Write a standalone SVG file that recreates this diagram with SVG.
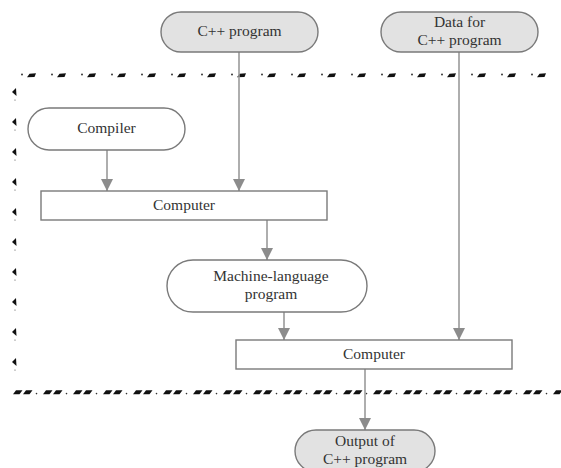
<svg xmlns="http://www.w3.org/2000/svg" width="561" height="468" viewBox="0 0 561 468">
  <style>
    .term { fill: #ffffff; stroke: #7a7a7a; stroke-width: 1.4; }
    .term.io { fill: #e2e2e2; }
    .box { fill: #ffffff; stroke: #7a7a7a; stroke-width: 1.4; }
    .lbl { font-family: "Liberation Serif", "Times New Roman", serif; font-size: 15.5px; fill: #333333; text-anchor: middle; }
    .conn { stroke: #9a9a9a; stroke-width: 1.6; fill: none; marker-end: url(#arrow); }
  </style>
  <defs>
    <marker id="arrow" viewBox="0 0 12 16" refX="12" refY="8" markerWidth="12" markerHeight="16" markerUnits="userSpaceOnUse" orient="auto">
      <path d="M0,2 L12,8 L0,14 Z" fill="#8c8c8c"/>
    </marker>
    <!-- top boundary: dot + slanted dash, 30px period -->
    <pattern id="topEdge" x="20" y="72" width="30" height="7" patternUnits="userSpaceOnUse">
      <circle cx="2" cy="2.5" r="0.9" fill="#222"/>
      <path d="M7,5.2 L9.5,1.8 L16,1.3 L14.5,5 Z" fill="#111"/>
    </pattern>
    <!-- bottom boundary: two slanted dashes + dot, 30px period -->
    <pattern id="bottomEdge" x="12" y="389" width="30" height="7" patternUnits="userSpaceOnUse">
      <path d="M1,5.3 L4,1.3 L10.5,1.3 L7.5,5.3 Z" fill="#111"/>
      <path d="M11,5.3 L14,1.3 L20.5,1.3 L17.5,5.3 Z" fill="#111"/>
      <circle cx="24.5" cy="4.6" r="0.8" fill="#333"/>
    </pattern>
    <!-- left boundary: small left-pointing blob + dot, 30px period -->
    <pattern id="leftEdge" x="10" y="87" width="8" height="30" patternUnits="userSpaceOnUse">
      <path d="M2,5 L6,1 L6.5,9 Z" fill="#111"/>
      <circle cx="5" cy="13" r="0.6" fill="#444"/>
    </pattern>
  </defs>

  <!-- computer boundary -->
  <g id="boundary">
    <rect x="20" y="72" width="541" height="7" fill="url(#topEdge)"/>
    <rect x="10" y="87" width="8" height="285" fill="url(#leftEdge)"/>
    <rect x="12" y="389" width="549" height="7" fill="url(#bottomEdge)"/>
  </g>

  <g id="connectors">
    <line class="conn" x1="239" y1="52" x2="239" y2="191"/>
    <line class="conn" x1="107" y1="150" x2="107" y2="191"/>
    <line class="conn" x1="267" y1="220" x2="267" y2="260"/>
    <line class="conn" x1="284" y1="312" x2="284" y2="340"/>
    <line class="conn" x1="459" y1="52" x2="459" y2="340"/>
    <line class="conn" x1="365" y1="369" x2="365" y2="430"/>
  </g>

  <g id="cpp-program">
    <rect class="term io" x="161" y="12" width="157" height="40" rx="20"/>
    <text class="lbl" x="239.5" y="36">C++ program</text>
  </g>

  <g id="data">
    <rect class="term io" x="381" y="12" width="157" height="40" rx="20"/>
    <text class="lbl" x="459.5" y="27">Data for</text>
    <text class="lbl" x="459.5" y="45">C++ program</text>
  </g>

  <g id="compiler">
    <rect class="term" x="28" y="108" width="157" height="42" rx="21"/>
    <text class="lbl" x="106.5" y="133">Compiler</text>
  </g>

  <g id="computer-1">
    <rect class="box" x="41" y="191" width="286" height="29"/>
    <text class="lbl" x="184" y="210">Computer</text>
  </g>

  <g id="machine-program">
    <rect class="term" x="167" y="260" width="200" height="52" rx="26"/>
    <text class="lbl" x="271" y="281">Machine-language</text>
    <text class="lbl" x="271" y="299">program</text>
  </g>

  <g id="computer-2">
    <rect class="box" x="236" y="340" width="276" height="29"/>
    <text class="lbl" x="374" y="359">Computer</text>
  </g>

  <g id="output">
    <rect class="term io" x="295" y="430" width="140" height="42" rx="21"/>
    <text class="lbl" x="365" y="446">Output of</text>
    <text class="lbl" x="365" y="464">C++ program</text>
  </g>
</svg>
